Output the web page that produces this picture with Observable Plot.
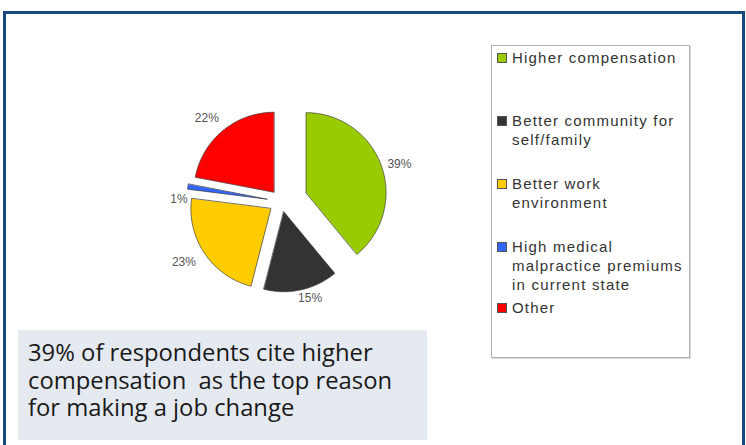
<!DOCTYPE html>
<html><head><meta charset="utf-8">
<script src="https://cdn.jsdelivr.net/npm/d3@7"></script>
<script src="https://cdn.jsdelivr.net/npm/@observablehq/plot@0.6"></script>
<style>
html,body{margin:0;padding:0;background:#fff;}
#stage{position:relative;width:746px;height:445px;overflow:hidden;font-family:"Liberation Sans",Arial,sans-serif;}
#frame{position:absolute;left:3px;top:11px;width:742px;height:470px;border:3px solid #17497e;box-sizing:border-box;}
#caption{position:absolute;left:18px;top:330px;width:409px;height:110px;background:#e5e9f0;box-sizing:border-box;padding:9px 0 0 10px;font-family:"Open Sans","Noto Sans",sans-serif;font-size:23.8px;line-height:27.5px;color:#1a1a1a;white-space:pre;}
#legend{position:absolute;left:491px;top:45px;width:199px;height:313px;border:1px solid #b0b0b0;box-shadow:1px 1px 0 #d8d8d8;box-sizing:border-box;}
.item{position:absolute;left:5px;}
.sw{position:absolute;left:0;top:5px;width:8px;height:8px;border:1px solid #555;}
.lab{position:absolute;left:15px;top:0;font-size:15px;line-height:19px;letter-spacing:1.2px;color:#333;white-space:pre;}
#chart{position:absolute;left:0;top:0;}
</style></head>
<body><div id="stage"><div id="frame"></div><div id="caption"></div><div id="legend"></div><div id="chart"></div></div>
<script>
const categories = ["Higher compensation","Better community for self/family","Better work environment","High medical malpractice premiums in current state","Other"];
const values = [39, 15, 23, 1, 22];
const pctLabels = ["39%","15%","23%","1%","22%"];
const colors = ["#99cc00","#333333","#ffcc00","#3366ff","#ff0000"];
const explode = [0.326, 0.131, 0.16, 0.185, 0.15];
// label placement relative to each slice: [angle shift (deg), radius factor]
const labelShift = [2.9, -4.4, 2.7, -8.8, -2.5];
const labelRadius = [1.22, 1.125, 1.275, 1.1, 1.25];
const legendLines = [["Higher compensation"],["Better community for","self/family"],["Better work","environment"],["High medical","malpractice premiums","in current state"],["Other"]];
const captionLines = ["39% of respondents cite higher","compensation  as the top reason","for making a job change"];

const cx = 281, cy = 201, R = 80;
const arcs = d3.pie().sort(null).startAngle(0).endAngle(2*Math.PI)(values);
const polys = [], labels = [];
arcs.forEach((a, i) => {
  const m = (a.startAngle + a.endAngle) / 2;
  const ox = explode[i] * Math.sin(m), oy = explode[i] * Math.cos(m);
  polys.push({cat: categories[i], x: ox, y: oy});
  const n = Math.max(2, Math.ceil((a.endAngle - a.startAngle) / (Math.PI/180)));
  for (let k = 0; k <= n; k++) {
    const t = a.startAngle + (a.endAngle - a.startAngle) * k / n;
    polys.push({cat: categories[i], x: ox + Math.sin(t), y: oy + Math.cos(t)});
  }
  const lm = m + labelShift[i] * Math.PI / 180;
  labels.push({x: ox + labelRadius[i]*Math.sin(lm), y: oy + labelRadius[i]*Math.cos(lm), text: pctLabels[i]});
});

const plot = Plot.plot({
  width: 746, height: 445, margin: 0,
  x: {domain: [-1, 1], range: [cx - R, cx + R], axis: null},
  y: {domain: [-1, 1], range: [cy + R, cy - R], axis: null},
  color: {domain: categories, range: colors, legend: false},
  style: {background: "transparent", fontFamily: "'Liberation Sans', Arial, sans-serif"},
  marks: [
    Plot.line(polys, {x: "x", y: "y", z: "cat", fill: "cat", stroke: "#3a3a3a", strokeWidth: 0.7, curve: "linear-closed"}),
    Plot.text(labels, {x: "x", y: "y", text: "text", fontSize: 12, fill: "#555"})
  ]
});
document.getElementById("chart").appendChild(plot);

const leg = document.getElementById("legend");
const slotTops = [2, 65, 128, 191, 252];
legendLines.forEach((lines, i) => {
  const it = document.createElement("div");
  it.className = "item"; it.style.top = slotTops[i] + "px";
  const sw = document.createElement("div"); sw.className = "sw"; sw.style.background = colors[i];
  const lb = document.createElement("div"); lb.className = "lab"; lb.textContent = lines.join("\n");
  it.appendChild(sw); it.appendChild(lb); leg.appendChild(it);
});
document.getElementById("caption").textContent = captionLines.join("\n");
</script></body></html>
